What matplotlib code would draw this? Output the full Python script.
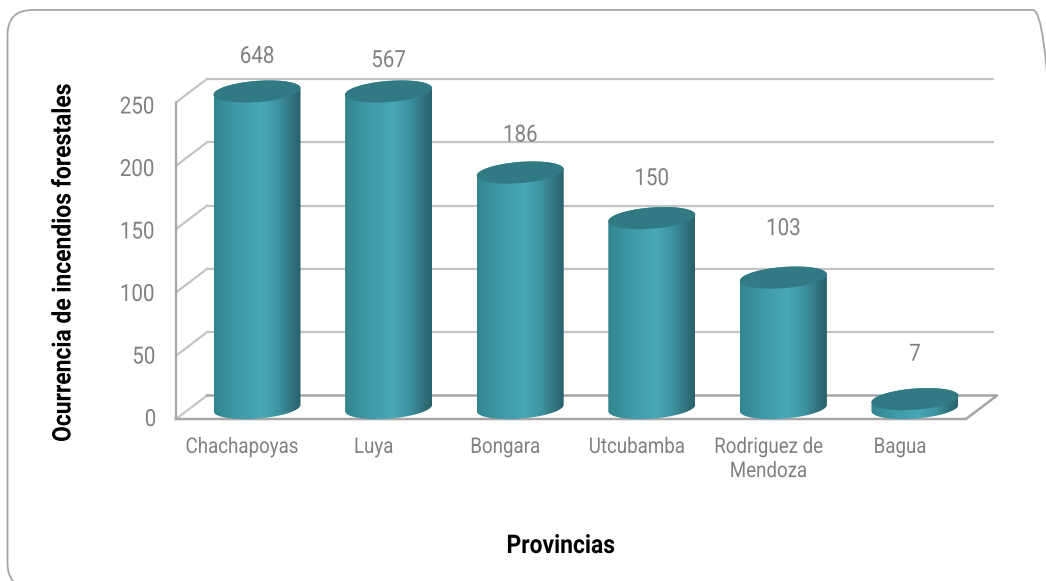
import numpy as np
import matplotlib
matplotlib.use('Agg')
import matplotlib.pyplot as plt
from matplotlib.colors import LinearSegmentedColormap
from matplotlib.patches import FancyBboxPatch
from matplotlib.patheffects import AbstractPathEffect
from matplotlib.transforms import Affine2D, IdentityTransform

# Data
provincias = ['Chachapoyas', 'Luya', 'Bongara', 'Utcubamba', 'Rodriguez de\nMendoza', 'Bagua']
ocurrencia = [648, 567, 186, 150, 103, 7]
y_ticks = [0, 50, 100, 150, 200, 250]

plt.rcParams['font.family'] = ['Roboto', 'DejaVu Sans']

W, H = 1046, 581
fig = plt.figure(figsize=(W / 100, H / 100), dpi=100)

# axes box in pixels, y=0 sits 6 px above the bottom of the box
left, right, bottom, top = 176, 966, 423, 79
ax = fig.add_axes([left / W, 1 - bottom / H, (right - left) / W, (bottom - top) / H])
PX_X = 131.6   # pixels per category
PX_Y = 1.25    # pixels per value unit

gray_back = '#c4c4c4'
gray_front = '#a6a6a6'
gray_text = '#808080'


# Roboto has no condensed cut here, so squeeze the glyphs around the text centre
class Squeeze(AbstractPathEffect):
    def __init__(self, text, factor):
        super().__init__()
        self.text = text
        self.factor = factor

    def draw_path(self, renderer, gc, tpath, affine, rgbFace=None):
        box = self.text.get_window_extent(renderer)
        cx, cy = (box.x0 + box.x1) / 2, (box.y0 + box.y1) / 2
        sx, sy = (1, self.factor) if self.text.get_rotation() == 90 else (self.factor, 1)
        squeeze = Affine2D().translate(-cx, -cy).scale(sx, sy).translate(cx, cy)
        renderer.draw_path(gc, tpath, affine + squeeze, rgbFace)


def narrow(text, factor=0.87):
    text.set_path_effects([Squeeze(text, factor)])


# rounded frame around the chart, its right side runs off the picture
frame = FancyBboxPatch((7.5, H - 588), 1050.5, 578, boxstyle='round,pad=0,rounding_size=25',
                       transform=IdentityTransform(), fc='none', ec='#a6a6a6', lw=1.3,
                       clip_on=True, figure=fig)
fig.add_artist(frame)

# 3D walls
wall = 1.0128
depth_x = 31 / PX_X
depth_y = 23.5 / PX_Y
front_y0 = -1.6
x0, x1 = (left - 257) / PX_X, (right - 257) / PX_X


def front(v):
    return front_y0 + v * wall


for v in y_ticks:
    ax.plot([x0, x0 + depth_x], [front(v), front(v) + depth_y], color=gray_back, lw=1.6, zorder=1, clip_on=False)
    if v > 0:
        ax.plot([x0 + depth_x, x1 + depth_x - 0.03], [front(v) + depth_y] * 2, color=gray_back, lw=1.6,
                zorder=1, clip_on=False)
ax.plot([x0, x0], [front(0), front(250)], color=gray_front, lw=1.6, zorder=2, clip_on=False)
ax.plot([x0 + depth_x, x1 + depth_x, x1, x0], [front(0) + depth_y, front(0) + depth_y, front(0), front(0)],
        color=gray_front, lw=1.8, zorder=2, clip_on=False)

# cylinders
cmap = LinearSegmentedColormap.from_list('teal', [(0, '#32858e'), (0.25, '#3d99a5'), (0.55, '#48a8b6'),
                                                  (0.75, '#3d929f'), (0.92, '#2f6e78'), (1, '#28626b')])
gradient = np.linspace(0, 1, 256).reshape(1, -1)
a = 43.5 / PX_X
b = 10.6 / PX_Y
s = 3.2 / PX_Y
base = 7.2
label_gap = [35, 31, 37.5, 39.5, 49, 45]

t = np.linspace(0, np.pi, 80)
for i, val in enumerate(ocurrencia):
    h = min(val, y_ticks[-1]) * wall
    y_top = base + h
    xs_low = i - a * np.cos(t)
    ys_low = base - s * np.cos(t) - b * np.sin(t)
    xs_up = i + a * np.cos(t)
    ys_up = y_top + s * np.cos(t) + b * np.sin(t)
    body, = ax.fill(np.r_[xs_low, xs_up], np.r_[ys_low, ys_up], fc='none', ec='none')
    im = ax.imshow(gradient, cmap=cmap, aspect='auto', zorder=3, interpolation='bilinear',
                   extent=[i - a, i + a, base - 15, y_top + 15])
    im.set_clip_path(body)
    # top cap
    cap_x = i + a * np.cos(2 * t)
    cap_y = y_top + s * np.cos(2 * t) + b * np.sin(2 * t)
    ax.fill(cap_x, cap_y, color='#317a84', lw=0, zorder=4)
    note = ax.annotate(str(val), (i, y_top), xytext=(0, label_gap[i] * 0.72), textcoords='offset points',
                       ha='center', va='center', fontsize=17, color=gray_text, annotation_clip=False)
    narrow(note)

ax.set_xlim(x0, x1)
ax.set_ylim((417 - bottom) / PX_Y, (417 - top) / PX_Y)
for sp in ax.spines.values():
    sp.set_visible(False)
ax.patch.set_alpha(0)

ax.set_yticks(y_ticks)
ax.set_xticks(np.arange(len(provincias)) - 15 / PX_X)
ax.set_xticklabels(provincias, linespacing=1.2)
ax.tick_params(axis='y', length=0, pad=13.5, labelsize=17, labelcolor=gray_text)
ax.tick_params(axis='x', length=0, pad=10, labelsize=15.5, labelcolor=gray_text)
for lab in ax.get_xticklabels() + ax.get_yticklabels():
    narrow(lab)

xlab = fig.text(561 / W, 1 - 546 / H, 'Provincias', ha='center', va='center', fontsize=18.5,
                color='black', fontweight='bold')
ylab = fig.text(63.5 / W, 1 - 262 / H, 'Ocurrencia de incendios forestales', ha='center', va='center',
                rotation=90, fontsize=18.5, color='black', fontweight='bold')
narrow(xlab, 0.89)
narrow(ylab, 0.89)

plt.savefig('out.png', dpi=100)
